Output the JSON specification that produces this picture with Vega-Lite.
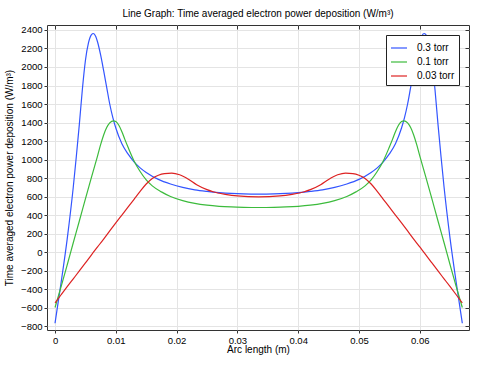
{
  "$schema": "https://vega.github.io/schema/vega-lite/v6.json",
  "width": 422,
  "height": 305,
  "autosize": "none",
  "padding": {"left": 47, "top": 25, "right": 14, "bottom": 36},
  "background": "white",
  "config": {
    "font": "Liberation Sans",
    "view": {"stroke": "#333333", "strokeWidth": 1},
    "axis": {
      "labelFont": "Liberation Sans", "titleFont": "Liberation Sans",
      "labelFontSize": 9.5, "titleFontSize": 10, "titleFontWeight": "normal",
      "labelColor": "#000000", "titleColor": "#000000",
      "gridColor": "#e4e4e4", "gridWidth": 1,
      "domain": false, "tickColor": "#333333", "tickSize": 3
    }
  },
  "title": {
    "text": "Line Graph: Time averaged electron power deposition (W/m³)",
    "font": "Liberation Sans", "fontSize": 10, "fontWeight": "normal",
    "color": "#000000", "anchor": "middle", "offset": 6
  },
  "data": {"values": [
    {"s": "0.3 torr", "x": 0, "y": -770},
    {"s": "0.3 torr", "x": 0.001, "y": -330},
    {"s": "0.3 torr", "x": 0.002, "y": 140},
    {"s": "0.3 torr", "x": 0.003, "y": 700},
    {"s": "0.3 torr", "x": 0.0035, "y": 1030},
    {"s": "0.3 torr", "x": 0.004, "y": 1380},
    {"s": "0.3 torr", "x": 0.0045, "y": 1760},
    {"s": "0.3 torr", "x": 0.005, "y": 2070},
    {"s": "0.3 torr", "x": 0.0055, "y": 2260},
    {"s": "0.3 torr", "x": 0.006, "y": 2350},
    {"s": "0.3 torr", "x": 0.0063, "y": 2362},
    {"s": "0.3 torr", "x": 0.0067, "y": 2330},
    {"s": "0.3 torr", "x": 0.007, "y": 2270},
    {"s": "0.3 torr", "x": 0.0075, "y": 2130},
    {"s": "0.3 torr", "x": 0.008, "y": 1960},
    {"s": "0.3 torr", "x": 0.0085, "y": 1780},
    {"s": "0.3 torr", "x": 0.009, "y": 1600},
    {"s": "0.3 torr", "x": 0.0095, "y": 1455},
    {"s": "0.3 torr", "x": 0.01, "y": 1340},
    {"s": "0.3 torr", "x": 0.011, "y": 1170},
    {"s": "0.3 torr", "x": 0.012, "y": 1060},
    {"s": "0.3 torr", "x": 0.013, "y": 975},
    {"s": "0.3 torr", "x": 0.014, "y": 910},
    {"s": "0.3 torr", "x": 0.015, "y": 860},
    {"s": "0.3 torr", "x": 0.017, "y": 785},
    {"s": "0.3 torr", "x": 0.019, "y": 735},
    {"s": "0.3 torr", "x": 0.021, "y": 698},
    {"s": "0.3 torr", "x": 0.023, "y": 672},
    {"s": "0.3 torr", "x": 0.025, "y": 655},
    {"s": "0.3 torr", "x": 0.027, "y": 642},
    {"s": "0.3 torr", "x": 0.029, "y": 633},
    {"s": "0.3 torr", "x": 0.031, "y": 628},
    {"s": "0.3 torr", "x": 0.0335, "y": 626},
    {"s": "0.3 torr", "x": 0.036, "y": 628},
    {"s": "0.3 torr", "x": 0.038, "y": 633},
    {"s": "0.3 torr", "x": 0.04, "y": 642},
    {"s": "0.3 torr", "x": 0.042, "y": 655},
    {"s": "0.3 torr", "x": 0.044, "y": 672},
    {"s": "0.3 torr", "x": 0.046, "y": 698},
    {"s": "0.3 torr", "x": 0.048, "y": 735},
    {"s": "0.3 torr", "x": 0.05, "y": 785},
    {"s": "0.3 torr", "x": 0.052, "y": 860},
    {"s": "0.3 torr", "x": 0.053, "y": 910},
    {"s": "0.3 torr", "x": 0.054, "y": 975},
    {"s": "0.3 torr", "x": 0.055, "y": 1060},
    {"s": "0.3 torr", "x": 0.056, "y": 1170},
    {"s": "0.3 torr", "x": 0.057, "y": 1340},
    {"s": "0.3 torr", "x": 0.0575, "y": 1455},
    {"s": "0.3 torr", "x": 0.058, "y": 1600},
    {"s": "0.3 torr", "x": 0.0585, "y": 1780},
    {"s": "0.3 torr", "x": 0.059, "y": 1960},
    {"s": "0.3 torr", "x": 0.0595, "y": 2130},
    {"s": "0.3 torr", "x": 0.06, "y": 2270},
    {"s": "0.3 torr", "x": 0.0603, "y": 2330},
    {"s": "0.3 torr", "x": 0.0607, "y": 2362},
    {"s": "0.3 torr", "x": 0.061, "y": 2350},
    {"s": "0.3 torr", "x": 0.0615, "y": 2260},
    {"s": "0.3 torr", "x": 0.062, "y": 2070},
    {"s": "0.3 torr", "x": 0.0625, "y": 1760},
    {"s": "0.3 torr", "x": 0.063, "y": 1380},
    {"s": "0.3 torr", "x": 0.0635, "y": 1030},
    {"s": "0.3 torr", "x": 0.064, "y": 700},
    {"s": "0.3 torr", "x": 0.065, "y": 140},
    {"s": "0.3 torr", "x": 0.066, "y": -330},
    {"s": "0.3 torr", "x": 0.067, "y": -770},

    {"s": "0.1 torr", "x": 0, "y": -600},
    {"s": "0.1 torr", "x": 0.001, "y": -375},
    {"s": "0.1 torr", "x": 0.002, "y": -140},
    {"s": "0.1 torr", "x": 0.003, "y": 100},
    {"s": "0.1 torr", "x": 0.004, "y": 335},
    {"s": "0.1 torr", "x": 0.005, "y": 575},
    {"s": "0.1 torr", "x": 0.006, "y": 810},
    {"s": "0.1 torr", "x": 0.007, "y": 1040},
    {"s": "0.1 torr", "x": 0.0075, "y": 1160},
    {"s": "0.1 torr", "x": 0.008, "y": 1265},
    {"s": "0.1 torr", "x": 0.0085, "y": 1345},
    {"s": "0.1 torr", "x": 0.009, "y": 1395},
    {"s": "0.1 torr", "x": 0.0096, "y": 1418},
    {"s": "0.1 torr", "x": 0.01, "y": 1410},
    {"s": "0.1 torr", "x": 0.0105, "y": 1370},
    {"s": "0.1 torr", "x": 0.011, "y": 1300},
    {"s": "0.1 torr", "x": 0.0115, "y": 1215},
    {"s": "0.1 torr", "x": 0.012, "y": 1135},
    {"s": "0.1 torr", "x": 0.013, "y": 985},
    {"s": "0.1 torr", "x": 0.014, "y": 870},
    {"s": "0.1 torr", "x": 0.015, "y": 780},
    {"s": "0.1 torr", "x": 0.016, "y": 715},
    {"s": "0.1 torr", "x": 0.0175, "y": 650},
    {"s": "0.1 torr", "x": 0.019, "y": 600},
    {"s": "0.1 torr", "x": 0.021, "y": 555},
    {"s": "0.1 torr", "x": 0.023, "y": 525},
    {"s": "0.1 torr", "x": 0.025, "y": 506},
    {"s": "0.1 torr", "x": 0.027, "y": 494},
    {"s": "0.1 torr", "x": 0.029, "y": 487},
    {"s": "0.1 torr", "x": 0.031, "y": 483},
    {"s": "0.1 torr", "x": 0.0335, "y": 481},
    {"s": "0.1 torr", "x": 0.036, "y": 483},
    {"s": "0.1 torr", "x": 0.038, "y": 487},
    {"s": "0.1 torr", "x": 0.04, "y": 494},
    {"s": "0.1 torr", "x": 0.042, "y": 506},
    {"s": "0.1 torr", "x": 0.044, "y": 525},
    {"s": "0.1 torr", "x": 0.046, "y": 555},
    {"s": "0.1 torr", "x": 0.048, "y": 600},
    {"s": "0.1 torr", "x": 0.0495, "y": 650},
    {"s": "0.1 torr", "x": 0.051, "y": 715},
    {"s": "0.1 torr", "x": 0.052, "y": 780},
    {"s": "0.1 torr", "x": 0.053, "y": 870},
    {"s": "0.1 torr", "x": 0.054, "y": 985},
    {"s": "0.1 torr", "x": 0.055, "y": 1135},
    {"s": "0.1 torr", "x": 0.0555, "y": 1215},
    {"s": "0.1 torr", "x": 0.056, "y": 1300},
    {"s": "0.1 torr", "x": 0.0565, "y": 1370},
    {"s": "0.1 torr", "x": 0.057, "y": 1410},
    {"s": "0.1 torr", "x": 0.0574, "y": 1418},
    {"s": "0.1 torr", "x": 0.058, "y": 1395},
    {"s": "0.1 torr", "x": 0.0585, "y": 1345},
    {"s": "0.1 torr", "x": 0.059, "y": 1265},
    {"s": "0.1 torr", "x": 0.0595, "y": 1160},
    {"s": "0.1 torr", "x": 0.06, "y": 1040},
    {"s": "0.1 torr", "x": 0.061, "y": 810},
    {"s": "0.1 torr", "x": 0.062, "y": 575},
    {"s": "0.1 torr", "x": 0.063, "y": 335},
    {"s": "0.1 torr", "x": 0.064, "y": 100},
    {"s": "0.1 torr", "x": 0.065, "y": -140},
    {"s": "0.1 torr", "x": 0.066, "y": -375},
    {"s": "0.1 torr", "x": 0.067, "y": -600},

    {"s": "0.03 torr", "x": 0, "y": -550},
    {"s": "0.03 torr", "x": 0.001, "y": -462},
    {"s": "0.03 torr", "x": 0.002, "y": -375},
    {"s": "0.03 torr", "x": 0.003, "y": -290},
    {"s": "0.03 torr", "x": 0.004, "y": -205},
    {"s": "0.03 torr", "x": 0.005, "y": -118},
    {"s": "0.03 torr", "x": 0.006, "y": -30},
    {"s": "0.03 torr", "x": 0.007, "y": 55},
    {"s": "0.03 torr", "x": 0.008, "y": 140},
    {"s": "0.03 torr", "x": 0.009, "y": 228},
    {"s": "0.03 torr", "x": 0.01, "y": 315},
    {"s": "0.03 torr", "x": 0.011, "y": 400},
    {"s": "0.03 torr", "x": 0.012, "y": 485},
    {"s": "0.03 torr", "x": 0.013, "y": 570},
    {"s": "0.03 torr", "x": 0.014, "y": 655},
    {"s": "0.03 torr", "x": 0.015, "y": 735},
    {"s": "0.03 torr", "x": 0.016, "y": 795},
    {"s": "0.03 torr", "x": 0.017, "y": 830},
    {"s": "0.03 torr", "x": 0.018, "y": 848},
    {"s": "0.03 torr", "x": 0.0192, "y": 853},
    {"s": "0.03 torr", "x": 0.0205, "y": 835},
    {"s": "0.03 torr", "x": 0.022, "y": 785},
    {"s": "0.03 torr", "x": 0.0233, "y": 728},
    {"s": "0.03 torr", "x": 0.025, "y": 675},
    {"s": "0.03 torr", "x": 0.026, "y": 652},
    {"s": "0.03 torr", "x": 0.028, "y": 624},
    {"s": "0.03 torr", "x": 0.03, "y": 606},
    {"s": "0.03 torr", "x": 0.0335, "y": 596},
    {"s": "0.03 torr", "x": 0.037, "y": 606},
    {"s": "0.03 torr", "x": 0.039, "y": 624},
    {"s": "0.03 torr", "x": 0.041, "y": 652},
    {"s": "0.03 torr", "x": 0.042, "y": 675},
    {"s": "0.03 torr", "x": 0.0437, "y": 728},
    {"s": "0.03 torr", "x": 0.045, "y": 785},
    {"s": "0.03 torr", "x": 0.0465, "y": 835},
    {"s": "0.03 torr", "x": 0.0478, "y": 853},
    {"s": "0.03 torr", "x": 0.049, "y": 848},
    {"s": "0.03 torr", "x": 0.05, "y": 830},
    {"s": "0.03 torr", "x": 0.051, "y": 795},
    {"s": "0.03 torr", "x": 0.052, "y": 735},
    {"s": "0.03 torr", "x": 0.053, "y": 655},
    {"s": "0.03 torr", "x": 0.054, "y": 570},
    {"s": "0.03 torr", "x": 0.055, "y": 485},
    {"s": "0.03 torr", "x": 0.056, "y": 400},
    {"s": "0.03 torr", "x": 0.057, "y": 315},
    {"s": "0.03 torr", "x": 0.058, "y": 228},
    {"s": "0.03 torr", "x": 0.059, "y": 140},
    {"s": "0.03 torr", "x": 0.06, "y": 55},
    {"s": "0.03 torr", "x": 0.061, "y": -30},
    {"s": "0.03 torr", "x": 0.062, "y": -118},
    {"s": "0.03 torr", "x": 0.063, "y": -205},
    {"s": "0.03 torr", "x": 0.064, "y": -290},
    {"s": "0.03 torr", "x": 0.065, "y": -375},
    {"s": "0.03 torr", "x": 0.066, "y": -462},
    {"s": "0.03 torr", "x": 0.067, "y": -550}
  ]},
  "layer": [
    {
      "mark": {"type": "line", "interpolate": "monotone", "strokeWidth": 1.2, "clip": true},
      "encoding": {
        "x": {"field": "x", "type": "quantitative",
              "scale": {"domain": [-0.00132, 0.0681], "nice": false, "zero": false},
              "axis": {"title": "Arc length (m)", "values": [0, 0.01, 0.02, 0.03, 0.04, 0.05, 0.06],
                       "format": "~g", "labelPadding": 2, "titlePadding": 0, "tickSize": 3}},
        "y": {"field": "y", "type": "quantitative",
              "scale": {"domain": [-843, 2454], "nice": false, "zero": false},
              "axis": {"title": "Time averaged electron power deposition (W/m³)",
                       "values": [-800, -600, -400, -200, 0, 200, 400, 600, 800, 1000, 1200, 1400, 1600, 1800, 2000, 2200, 2400],
                       "format": "d", "labelPadding": 2, "titlePadding": 6, "tickSize": 3}},
        "color": {"field": "s", "type": "nominal",
                  "scale": {"domain": ["0.3 torr", "0.1 torr", "0.03 torr"], "range": ["#3355ff", "#3cbb3c", "#dd2222"]},
                  "legend": {"title": null, "orient": "none", "legendX": 339, "legendY": 10,
                             "strokeColor": "#222222", "fillColor": "white", "padding": 4,
                             "symbolType": "stroke", "symbolSize": 256, "symbolStrokeWidth": 1.2,
                             "labelFontSize": 10, "labelFont": "Liberation Sans", "labelColor": "#000000",
                             "rowPadding": -4.3, "labelOffset": 9}}
      }
    },
    {
      "mark": {"type": "point", "opacity": 0},
      "encoding": {
        "x": {"field": "x", "type": "quantitative",
              "axis": {"orient": "top", "title": null, "labels": false, "grid": false,
                       "values": [0, 0.01, 0.02, 0.03, 0.04, 0.05, 0.06], "tickSize": -4}},
        "y": {"field": "y", "type": "quantitative",
              "axis": {"orient": "right", "title": null, "labels": false, "grid": false,
                       "values": [-800, -600, -400, -200, 0, 200, 400, 600, 800, 1000, 1200, 1400, 1600, 1800, 2000, 2200, 2400], "tickSize": -4}}
      }
    }
  ],
  "resolve": {"axis": {"x": "independent", "y": "independent"}}
}
